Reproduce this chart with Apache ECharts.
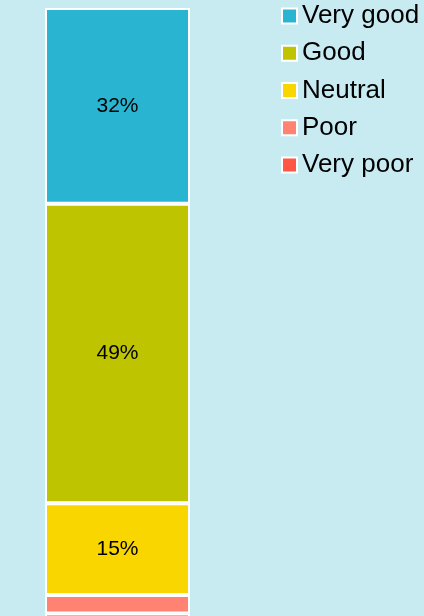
<!DOCTYPE html>
<html>
<head>
<meta charset="utf-8">
<script src="https://cdn.jsdelivr.net/npm/echarts@6/dist/echarts.min.js"></script>
<style>
  html, body { margin: 0; padding: 0; background: #c8ebf2; }
  #chart { width: 424px; height: 616px; }
</style>
</head>
<body>
<div id="chart"></div>
<script>
// data
var categories = ['Response'];
var seriesNames = ['Very good', 'Good', 'Neutral', 'Poor', 'Very poor'];
var seriesValues = [32, 49, 15, 3, 1];
var colors = ['#29b5d1', '#bec400', '#f9d600', '#ff8272', '#ff5645'];

var chart = echarts.init(document.getElementById('chart'));

var series = seriesNames.map(function (name, i) {
  return {
    name: name,
    type: 'bar',
    stack: 'total',
    barWidth: '100%',
    data: [seriesValues[i]],
    itemStyle: { color: colors[i], borderColor: '#fff', borderWidth: 2 },
    label: {
      show: true,
      position: 'inside',
      color: '#000',
      fontSize: 21,
      fontFamily: 'Liberation Sans, Arial, sans-serif',
      formatter: function (p) { return p.value >= 5 ? p.value + '%' : ''; }
    }
  };
});

chart.setOption({
  backgroundColor: '#c8ebf2',
  animation: false,
  color: colors,
  // bar runs past the bottom edge of the canvas
  grid: { left: 45, width: 145, top: 8, height: 611.5, outerBoundsMode: 'none' },
  xAxis: {
    type: 'category',
    data: categories,
    show: false
  },
  yAxis: {
    type: 'value',
    min: 0,
    max: 100,
    inverse: true,
    show: false
  },
  legend: {
    orient: 'vertical',
    left: 276,
    top: -2,
    itemWidth: 15,
    itemHeight: 15,
    itemGap: 11.25,
    icon: 'rect',
    textStyle: {
      fontSize: 26,
      color: '#000',
      fontFamily: 'Liberation Sans, Arial, sans-serif'
    }
  },
  series: series
});
</script>
</body>
</html>
